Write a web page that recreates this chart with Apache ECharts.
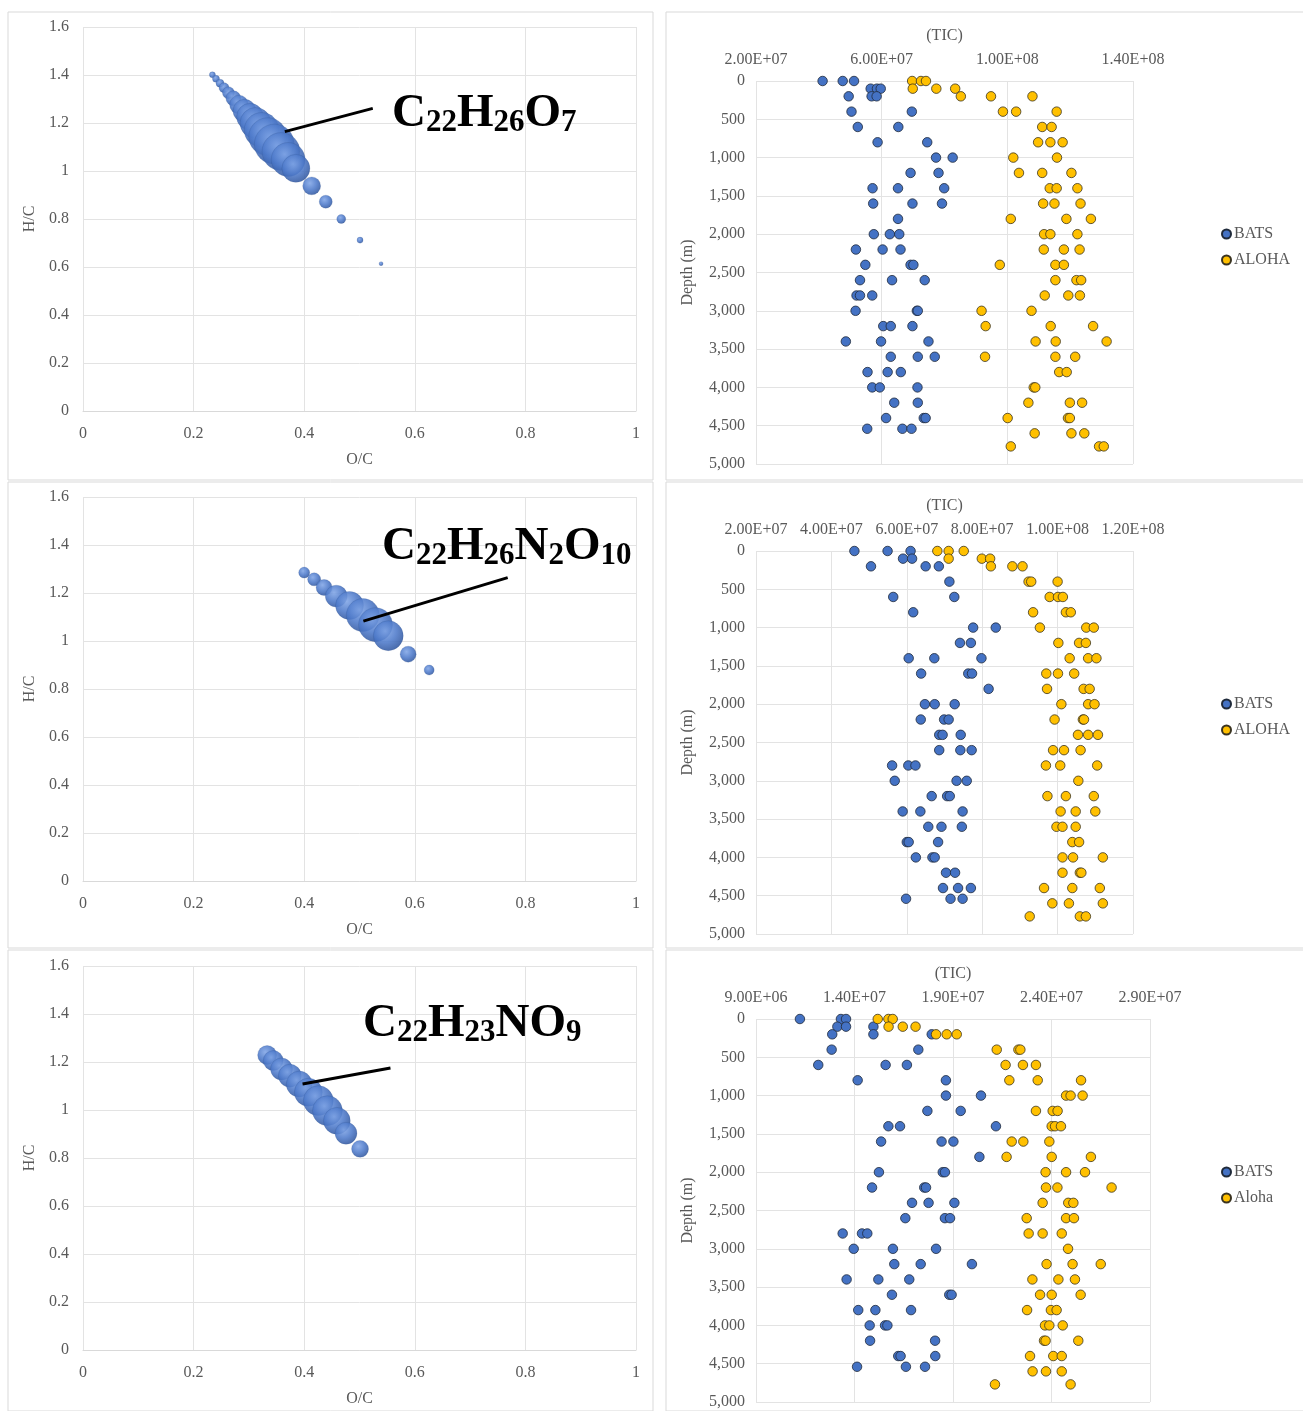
<!DOCTYPE html>
<html><head><meta charset="utf-8">
<script src="https://cdn.jsdelivr.net/npm/echarts@6/dist/echarts.min.js"></script>
<style>html,body{margin:0;padding:0;background:#fff;}#c{width:1303px;height:1411px;}</style>
</head><body><div id="c"></div>
<script>
// ---------- Van Krevelen bubble panels (O/C, H/C, relative abundance) ----------
const oc1 = [0.234,0.2405,0.2477,0.255,0.263,0.272,0.282,0.292,0.302,0.312,0.323,0.334,0.346,0.358,0.371,0.385,0.4135,0.439,0.467,0.501,0.539];
const hc1 = [1.401,1.384,1.366,1.347,1.326,1.303,1.277,1.251,1.226,1.200,1.171,1.143,1.112,1.081,1.048,1.011,0.938,0.872,0.800,0.712,0.614];
const ab1 = [2.3,3.1,4,6.3,9,14,22,33,45,60,76,90,100,90,72,49,20,10.6,5,2.3,1];

const oc2 = [0.400,0.418,0.436,0.458,0.482,0.506,0.529,0.552,0.588,0.626];
const hc2 = [1.285,1.257,1.223,1.187,1.148,1.108,1.068,1.022,0.945,0.879];
const ab2 = [7.6,10.6,16,30,49,68,72,56,16,6.3];

const oc3 = [0.333,0.344,0.359,0.374,0.391,0.4075,0.4255,0.442,0.459,0.4756,0.501];
const hc3 = [1.229,1.206,1.171,1.143,1.108,1.074,1.039,0.997,0.955,0.903,0.838];
const ab3 = [22.6,25,30,33,42,49,56,56,45,30,18];

const formulas = [
  '{m|C}{s|22}{m|H}{s|26}{m|O}{s|7}',
  '{m|C}{s|22}{m|H}{s|26}{m|N}{s|2}{m|O}{s|10}',
  '{m|C}{s|22}{m|H}{s|23}{m|N}{m|O}{s|9}'
];
// annotation leader lines in data coordinates [O/C, H/C]
const leader1 = [[0.365,1.164],[0.524,1.261]];
const leader2 = [[0.507,1.083],[0.768,1.264]];
const leader3 = [[0.397,1.108],[0.556,1.175]];

// ---------- Depth profiles: [TIC (x1e7 or x1e6), depth m] ----------
const bats1 = [[4.12,0],[4.76,0],[5.12,0],[5.65,100],[5.85,100],[5.97,100],[4.95,200],[5.68,200],[5.84,200],
 [5.04,400],[6.96,400],[5.24,600],[6.53,600],[5.87,800],[7.45,800],[7.73,1000],[8.26,1000],[6.92,1200],[7.81,1200],
 [5.71,1400],[6.52,1400],[7.99,1400],[5.73,1600],[6.98,1600],[7.92,1600],[6.52,1800],[5.75,2000],[6.26,2000],[6.56,2000],
 [5.18,2200],[6.03,2200],[6.60,2200],[5.48,2400],[6.92,2400],[7.01,2400],[5.31,2600],[6.33,2600],[7.37,2600],
 [5.20,2800],[5.31,2800],[5.70,2800],[5.17,3000],[7.12,3000],[7.15,3000],[6.05,3200],[6.29,3200],[6.98,3200],
 [4.86,3400],[5.98,3400],[7.49,3400],[6.29,3600],[7.15,3600],[7.69,3600],[5.55,3800],[6.19,3800],[6.61,3800],
 [5.70,4000],[5.94,4000],[7.14,4000],[6.40,4200],[7.15,4200],[6.14,4400],[7.34,4400],[7.40,4400],
 [5.54,4540],[6.66,4540],[6.95,4540]];
const aloha1 = [[6.97,0],[7.25,0],[7.41,0],[6.99,100],[7.74,100],[8.34,100],[8.52,200],[9.48,200],[10.80,200],
 [9.86,400],[10.28,400],[11.57,400],[11.11,600],[11.41,600],[10.98,800],[11.37,800],[11.76,800],[10.19,1000],[11.58,1000],
 [10.37,1200],[11.11,1200],[12.04,1200],[11.35,1400],[11.57,1400],[12.23,1400],[11.14,1600],[11.50,1600],[12.33,1600],
 [10.11,1800],[11.88,1800],[12.66,1800],[11.17,2000],[11.37,2000],[12.23,2000],[11.16,2200],[11.80,2200],[12.30,2200],
 [9.76,2400],[11.53,2400],[11.80,2400],[11.53,2600],[12.20,2600],[12.35,2600],[11.19,2800],[11.94,2800],[12.31,2800],
 [9.18,3000],[10.77,3000],[9.31,3200],[11.38,3200],[12.73,3200],[10.90,3400],[11.54,3400],[13.16,3400],
 [9.29,3600],[11.53,3600],[12.16,3600],[11.65,3800],[11.89,3800],[10.84,4000],[10.89,4000],
 [10.67,4200],[11.99,4200],[12.38,4200],[10.01,4400],[11.93,4400],[11.99,4400],[10.87,4600],[12.04,4600],[12.45,4600],
 [10.11,4770],[12.92,4770],[13.07,4770]];

const bats2 = [[4.61,0],[5.49,0],[6.10,0],[5.90,100],[6.14,100],[5.05,200],[6.50,200],[6.85,200],[7.13,400],
 [5.64,600],[7.26,600],[6.17,800],[7.76,1000],[8.36,1000],[7.41,1200],[7.70,1200],[6.05,1400],[6.73,1400],[7.98,1400],
 [6.38,1600],[7.63,1600],[7.73,1600],[8.17,1800],[6.48,2000],[6.74,2000],[7.27,2000],[6.37,2200],[6.99,2200],[7.11,2200],
 [6.86,2400],[6.95,2400],[7.43,2400],[6.86,2600],[7.42,2600],[7.72,2600],[5.61,2800],[6.04,2800],[6.23,2800],
 [5.68,3000],[7.32,3000],[7.59,3000],[6.66,3200],[7.07,3200],[7.14,3200],[5.89,3400],[6.36,3400],[7.48,3400],
 [6.57,3600],[6.92,3600],[7.46,3600],[6.00,3800],[6.05,3800],[6.83,3800],[6.24,4000],[6.68,4000],[6.74,4000],
 [7.04,4200],[7.28,4200],[6.96,4400],[7.36,4400],[7.70,4400],[5.98,4540],[7.16,4540],[7.48,4540]];
const aloha2 = [[6.81,0],[7.11,0],[7.51,0],[7.11,100],[7.99,100],[8.21,100],[8.23,200],[8.80,200],[9.07,200],
 [9.23,400],[9.30,400],[10.00,400],[9.79,600],[10.01,600],[10.14,600],[9.35,800],[10.22,800],[10.35,800],
 [9.53,1000],[10.76,1000],[10.96,1000],[10.02,1200],[10.57,1200],[10.75,1200],[10.32,1400],[10.81,1400],[11.03,1400],
 [9.70,1600],[10.01,1600],[10.44,1600],[9.72,1800],[10.69,1800],[10.85,1800],[10.10,2000],[10.81,2000],[10.98,2000],
 [9.92,2200],[10.67,2200],[10.70,2200],[10.54,2400],[10.81,2400],[11.07,2400],[9.88,2600],[10.17,2600],[10.61,2600],
 [9.69,2800],[10.07,2800],[11.05,2800],[10.55,3000],[9.73,3200],[10.22,3200],[10.96,3200],[10.08,3400],[10.48,3400],[11.00,3400],
 [9.97,3600],[10.13,3600],[10.48,3600],[10.39,3800],[10.57,3800],[10.13,4000],[10.41,4000],[11.20,4000],
 [10.13,4200],[10.59,4200],[10.63,4200],[9.64,4400],[10.39,4400],[11.12,4400],[9.86,4600],[10.30,4600],[11.20,4600],
 [9.26,4770],[10.59,4770],[10.75,4770]];

const bats3 = [[11.23,0],[13.31,0],[13.57,0],[13.13,100],[13.57,100],[14.96,100],[12.87,200],[14.96,200],[17.92,200],
 [12.84,400],[17.24,400],[12.16,600],[15.58,600],[16.66,600],[14.16,800],[18.64,800],[18.64,1000],[20.42,1000],
 [17.70,1200],[19.39,1200],[15.72,1400],[16.31,1400],[21.18,1400],[15.35,1600],[18.42,1600],[19.02,1600],[20.34,1800],
 [15.24,2000],[18.48,2000],[18.59,2000],[14.89,2200],[17.54,2200],[17.63,2200],[16.92,2400],[17.76,2400],[19.07,2400],
 [16.58,2600],[18.59,2600],[18.85,2600],[13.40,2800],[14.38,2800],[14.65,2800],[13.96,3000],[15.95,3000],[18.14,3000],
 [16.02,3200],[17.36,3200],[19.96,3200],[13.60,3400],[15.21,3400],[16.78,3400],[15.90,3600],[18.81,3600],[18.93,3600],
 [14.19,3800],[15.06,3800],[16.87,3800],[14.77,4000],[15.55,4000],[15.67,4000],[14.79,4200],[18.09,4200],
 [16.22,4400],[16.34,4400],[18.10,4400],[14.13,4540],[16.61,4540],[17.58,4540]];
const aloha3 = [[15.18,0],[15.72,0],[15.94,0],[15.73,100],[16.45,100],[17.10,100],[18.14,200],[18.68,200],[19.19,200],
 [21.22,400],[22.32,400],[22.42,400],[21.67,600],[22.55,600],[23.21,600],[21.86,800],[23.30,800],[25.50,800],
 [24.74,1000],[24.97,1000],[25.58,1000],[23.21,1200],[24.06,1200],[24.31,1200],[24.01,1400],[24.18,1400],[24.48,1400],
 [21.98,1600],[22.57,1600],[23.89,1600],[21.72,1800],[24.01,1800],[26.00,1800],[23.70,2000],[24.74,2000],[25.70,2000],
 [23.72,2200],[24.30,2200],[27.05,2200],[23.55,2400],[24.85,2400],[25.11,2400],[22.74,2600],[24.74,2600],[25.14,2600],
 [22.84,2800],[23.55,2800],[24.52,2800],[24.84,3000],[23.75,3200],[25.07,3200],[26.50,3200],[23.03,3400],[24.35,3400],[25.19,3400],
 [23.42,3600],[24.01,3600],[25.48,3600],[22.76,3800],[23.97,3800],[24.26,3800],[23.67,4000],[23.89,4000],[24.57,4000],
 [23.62,4200],[23.70,4200],[25.36,4200],[22.91,4400],[24.09,4400],[24.52,4400],[23.04,4600],[23.72,4600],[24.52,4600],
 [21.13,4770],[24.97,4770]];

const ticAxes = [ {min:2e7, max:1.4e8, interval:4e7}, {min:2e7, max:1.2e8, interval:2e7}, {min:9e6, max:2.9e7, interval:5e6} ];
const legendNames = [['BATS','ALOHA'],['BATS','ALOHA'],['BATS','Aloha']];

// ---------- build ----------
const SERIF = 'Liberation Serif';
const GRAY = '#595959';
const GRID = '#e3e3e3';
const BLUE = '#4472C4', GOLD = '#FFC000';

function sci(v){
  if (v === 0) return '0';
  let e = Math.floor(Math.log10(v) + 1e-9);
  let m = v / Math.pow(10, e);
  return m.toFixed(2) + 'E+' + (e < 10 ? '0' : '') + e;
}
function thou(v){ return String(Math.round(v)).replace(/\B(?=(\d{3})+(?!\d))/g, ','); }

const chart = echarts.init(document.getElementById('c'), null, {renderer:'canvas'});

const leftTops = [27, 497, 966];
const rightTops = [81, 551, 1019];
const rightWidths = [377, 377, 394];
const grids = [], xAxes = [], yAxes = [], series = [], legends = [], graphics = [];

const bubbleFill = {
  type:'radial', x:0.4, y:0.35, r:0.72,
  colorStops:[{offset:0,color:'#80a5e6'},{offset:0.5,color:'#4f7bcb'},{offset:1,color:'#2c5198'}]
};
const bubbles = [[oc1,hc1,ab1],[oc2,hc2,ab2],[oc3,hc3,ab3]];
const leaders = [leader1, leader2, leader3];
const profiles = [[bats1,aloha1,1e7],[bats2,aloha2,1e7],[bats3,aloha3,1e6]];
const formulaTops = [90, 523, 1000];
const formulaLefts = [392, 382, 363];
const panelRows = [[12,468],[482,466],[950,461]];

for (let i = 0; i < 3; i++) {
  // panel frames
  graphics.push({type:'rect', shape:{x:8, y:panelRows[i][0], width:645, height:panelRows[i][1]}, style:{fill:null, stroke:'#d9d9d9', lineWidth:1}, z:-10});
  graphics.push({type:'rect', shape:{x:666, y:panelRows[i][0], width:640, height:panelRows[i][1]}, style:{fill:null, stroke:'#d9d9d9', lineWidth:1}, z:-10});

  // ---- left bubble grid ----
  const gl = grids.length;
  grids.push({left:83, top:leftTops[i], width:553, height:384});
  xAxes.push({gridIndex:gl, type:'value', min:0, max:1, interval:0.2,
    name:'O/C', nameLocation:'middle', nameGap:41, nameTextStyle:{fontFamily:SERIF, fontSize:16, color:GRAY},
    axisLine:{show:true, lineStyle:{color:'#d9d9d9'}}, axisTick:{show:false},
    axisLabel:{fontFamily:SERIF, fontSize:16, color:GRAY, margin:15},
    splitLine:{show:true, lineStyle:{color:GRID}}});
  yAxes.push({gridIndex:gl, type:'value', min:0, max:1.6, interval:0.2,
    name:'H/C', nameLocation:'middle', nameGap:45, nameTextStyle:{fontFamily:SERIF, fontSize:16, color:GRAY},
    axisLine:{show:false}, axisTick:{show:false},
    axisLabel:{fontFamily:SERIF, fontSize:16, color:GRAY, margin:14, formatter:v=>String(+v.toFixed(1))},
    splitLine:{show:true, lineStyle:{color:GRID}}});
  const [oc, hc, ab] = bubbles[i];
  series.push({type:'scatter', name:'bubble'+i, xAxisIndex:gl, yAxisIndex:gl,
    data: oc.map((x,k)=>[x, hc[k], ab[k]]),
    symbolSize: v => 4*Math.sqrt(v[2]),
    itemStyle:{color:bubbleFill, opacity:0.88, borderColor:'rgba(40,70,130,0.35)', borderWidth:0.6},
    silent:true,
    markLine:{silent:true, symbol:['none','none'], label:{show:false},
      lineStyle:{color:'#000', width:3, type:'solid'},
      data:[[{coord:leaders[i][0]},{coord:leaders[i][1]}]], animation:false},
    z:2});
  graphics.push({type:'text', left:formulaLefts[i], top:formulaTops[i], z:100,
    style:{text:formulas[i], fill:'#000',
      rich:{ m:{fontFamily:SERIF, fontWeight:'bold', fontSize:47, lineHeight:50, verticalAlign:'middle', fill:'#000'},
             s:{fontFamily:SERIF, fontWeight:'bold', fontSize:31, lineHeight:16, verticalAlign:'bottom', fill:'#000'} }}});

  // ---- right depth profile grid ----
  const gr = grids.length;
  grids.push({left:756, top:rightTops[i], width:rightWidths[i], height:383});
  xAxes.push({gridIndex:gr, type:'value', position:'top', min:ticAxes[i].min, max:ticAxes[i].max, interval:ticAxes[i].interval,
    name:'(TIC)', nameLocation:'middle', nameGap:37, nameTextStyle:{fontFamily:SERIF, fontSize:16, color:GRAY},
    axisLine:{show:false}, axisTick:{show:false},
    axisLabel:{fontFamily:SERIF, fontSize:16, color:GRAY, margin:13, formatter:sci},
    splitLine:{show:true, lineStyle:{color:GRID}}});
  yAxes.push({gridIndex:gr, type:'value', inverse:true, min:0, max:5000, interval:500,
    name:'Depth (m)', nameLocation:'middle', nameGap:60, nameTextStyle:{fontFamily:SERIF, fontSize:16, color:GRAY},
    axisLine:{show:false}, axisTick:{show:false},
    axisLabel:{fontFamily:SERIF, fontSize:16, color:GRAY, margin:11, formatter:thou},
    splitLine:{show:true, lineStyle:{color:GRID}}});
  const [b, a, unit] = profiles[i];
  series.push({type:'scatter', name:legendNames[i][0], xAxisIndex:gr, yAxisIndex:gr,
    data: b.map(p=>[p[0]*unit, p[1]]), symbol:'circle', symbolSize:9.5,
    itemStyle:{color:BLUE, borderColor:'#1f2a3a', borderWidth:0.8, opacity:1}, z:3});
  series.push({type:'scatter', name:legendNames[i][1], xAxisIndex:gr, yAxisIndex:gr,
    data: a.map(p=>[p[0]*unit, p[1]]), symbol:'circle', symbolSize:9.5,
    itemStyle:{color:GOLD, borderColor:'#3a3320', borderWidth:0.8, opacity:1}, z:3});
  legends.push({orient:'vertical', left:1216, top:rightTops[i] + 140, itemWidth:9, itemHeight:9, itemGap:10,
    icon:'circle', selectedMode:false, data:legendNames[i],
    textStyle:{fontFamily:SERIF, fontSize:16, color:GRAY, padding:[0,0,0,-2]}});
}

chart.setOption({
  animation:false,
  backgroundColor:'#fff',
  grid:grids, xAxis:xAxes, yAxis:yAxes, series:series, legend:legends, graphic:graphics
});
</script></body></html>
